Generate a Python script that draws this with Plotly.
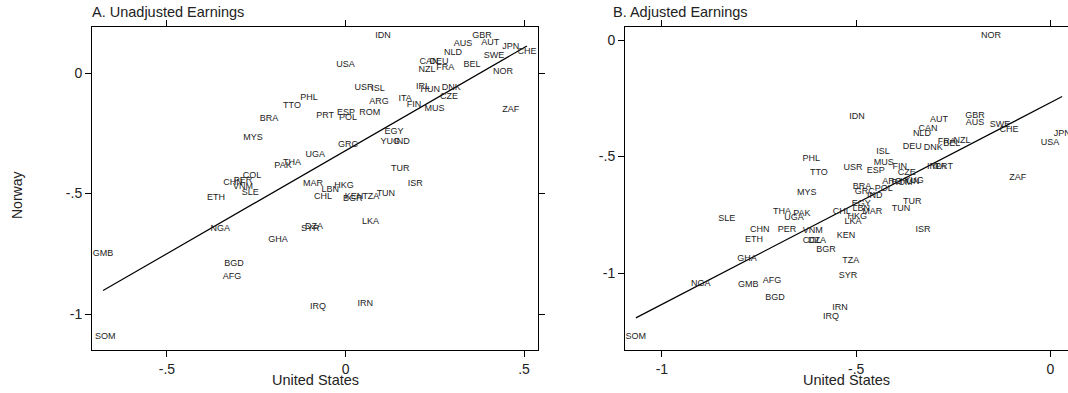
import numpy as np
import plotly.graph_objects as go

# Country codes (same order for both panels)
codes = ["NOR", "IDN", "AUT", "GBR", "AUS", "SWE", "CHE", "JPN", "USA", "CAN",
         "NLD", "NZL", "FRA", "BEL", "DEU", "DNK", "ISL", "PHL", "TTO", "USR",
         "ESP", "MUS", "FIN", "CZE", "IRL", "ITA", "PRT", "BRA", "GRC", "IND",
         "POL", "ARG", "ROM", "HUN", "YUG", "MYS", "TUR", "TUN", "EGY", "CHL",
         "LBN", "MAR", "HKG", "LKA", "THA", "PAK", "UGA", "SLE", "CHN", "PER",
         "VNM", "ETH", "COL", "DZA", "BGR", "KEN", "GHA", "TZA", "SYR", "NGA",
         "GMB", "AFG", "BGD", "IRN", "IRQ", "SOM", "ZAF", "ISR"]

# Panel A: unadjusted earnings
us_unadj = [0.441, 0.105, 0.405, 0.382, 0.329, 0.416, 0.508, 0.463, 0.000, 0.234,
            0.301, 0.228, 0.279, 0.354, 0.262, 0.296, 0.091, -0.102, -0.150, 0.052,
            0.001, 0.249, 0.192, 0.290, 0.217, 0.167, -0.057, -0.214, 0.007, 0.158,
            0.007, 0.094, 0.068, 0.237, 0.125, -0.259, 0.153, 0.113, 0.136, -0.063,
            -0.043, -0.091, -0.004, 0.070, -0.150, -0.175, -0.085, -0.267, -0.315, -0.287,
            -0.287, -0.363, -0.262, -0.088, 0.020, 0.024, -0.189, 0.071, -0.099, -0.351,
            -0.679, -0.318, -0.312, 0.055, -0.077, -0.673, 0.463, 0.195]
nor_unadj = [0.004, 0.154, 0.124, 0.154, 0.120, 0.071, 0.087, 0.108, 0.033, 0.046,
             0.083, 0.012, 0.021, 0.033, 0.046, -0.062, -0.066, -0.104, -0.137, -0.062,
             -0.166, -0.149, -0.133, -0.100, -0.058, -0.108, -0.178, -0.191, -0.299, -0.286,
             -0.187, -0.120, -0.166, -0.071, -0.286, -0.270, -0.398, -0.502, -0.245, -0.515,
             -0.485, -0.461, -0.469, -0.618, -0.373, -0.386, -0.340, -0.498, -0.456, -0.448,
             -0.473, -0.519, -0.427, -0.639, -0.520, -0.515, -0.693, -0.515, -0.647, -0.647,
             -0.751, -0.846, -0.793, -0.959, -0.971, -1.095, -0.154, -0.461]

# Panel B: adjusted earnings
us_adj = [-0.153, -0.498, -0.287, -0.194, -0.194, -0.130, -0.107, 0.030, -0.001, -0.315,
          -0.331, -0.228, -0.267, -0.254, -0.356, -0.302, -0.431, -0.616, -0.596, -0.508,
          -0.450, -0.429, -0.388, -0.370, -0.300, -0.287, -0.274, -0.485, -0.478, -0.452,
          -0.429, -0.408, -0.382, -0.362, -0.351, -0.627, -0.356, -0.385, -0.487, -0.537,
          -0.487, -0.459, -0.497, -0.508, -0.691, -0.640, -0.660, -0.833, -0.748, -0.678,
          -0.612, -0.763, -0.614, -0.601, -0.578, -0.526, -0.781, -0.514, -0.521, -0.900,
          -0.778, -0.717, -0.709, -0.542, -0.565, -1.067, -0.084, -0.328]
nor_adj = [0.017, -0.330, -0.343, -0.326, -0.356, -0.365, -0.386, -0.403, -0.442, -0.382,
           -0.403, -0.433, -0.438, -0.446, -0.459, -0.464, -0.481, -0.511, -0.571, -0.549,
           -0.562, -0.528, -0.545, -0.571, -0.545, -0.545, -0.545, -0.631, -0.652, -0.670,
           -0.639, -0.609, -0.614, -0.609, -0.605, -0.657, -0.695, -0.725, -0.704, -0.738,
           -0.725, -0.738, -0.760, -0.781, -0.738, -0.747, -0.764, -0.768, -0.815, -0.815,
           -0.820, -0.858, -0.863, -0.863, -0.901, -0.841, -0.940, -0.948, -1.013, -1.047,
           -1.052, -1.034, -1.107, -1.150, -1.189, -1.275, -0.592, -0.815]

W, H = 1068, 393
TXT = "#222222"
FONT = "Liberation Sans, Arial, Helvetica, sans-serif"


def ols_line(x, y):
    x = np.asarray(x)
    y = np.asarray(y)
    slope, intercept = np.polyfit(x, y, 1)
    xs = np.array([x.min(), x.max()])
    return xs, intercept + slope * xs


fig = go.Figure()

for xv, yv, xa, ya in [(us_unadj, nor_unadj, "x", "y"), (us_adj, nor_adj, "x2", "y2")]:
    fx, fy = ols_line(xv, yv)
    fig.add_trace(go.Scatter(x=fx, y=fy, mode="lines", xaxis=xa, yaxis=ya,
                             line=dict(color="black", width=1.2),
                             hoverinfo="skip", showlegend=False))
    fig.add_trace(go.Scatter(x=xv, y=yv, text=codes, mode="text", xaxis=xa, yaxis=ya,
                             textposition="middle center",
                             textfont=dict(size=9, color=TXT, family=FONT),
                             showlegend=False))

ydom = [1 - 350 / H, 1 - 27 / H]
axis_common = dict(showgrid=False, zeroline=False, showline=True, linecolor="black",
                   linewidth=1, ticks="outside", ticklen=6, tickwidth=1, tickcolor="black",
                   tickfont=dict(size=14, color=TXT, family=FONT))

fig.update_layout(
    width=W, height=H,
    margin=dict(l=0, r=0, t=0, b=0),
    paper_bgcolor="white", plot_bgcolor="white",
    xaxis=dict(domain=[92 / W, 538 / W], range=[-0.710, 0.539], mirror="ticks",
               tickvals=[-0.5, 0, 0.5], ticktext=["-.5", "0", ".5"], anchor="y",
               **axis_common),
    yaxis=dict(domain=ydom, range=[-1.149, 0.191], mirror="ticks",
               tickvals=[-1, -0.5, 0], ticktext=["-1", "-.5", "0"], anchor="x",
               **axis_common),
    xaxis2=dict(domain=[625 / W, 1.0], range=[-1.095, 0.045], mirror="ticks",
                tickvals=[-1, -0.5, 0], ticktext=["-1", "-.5", "0"], anchor="y2",
                **axis_common),
    yaxis2=dict(domain=ydom, range=[-1.330, 0.056], mirror=False,
                tickvals=[-1, -0.5, 0], ticktext=["-1", "-.5", "0"], anchor="x2",
                **axis_common),
    annotations=[
        dict(text="A. Unadjusted Earnings", x=90 / W, y=1 - 12 / H, xref="paper", yref="paper",
             xanchor="left", yanchor="middle", showarrow=False,
             font=dict(size=14.5, color=TXT, family=FONT)),
        dict(text="B. Adjusted Earnings", x=611 / W, y=1 - 12 / H, xref="paper", yref="paper",
             xanchor="left", yanchor="middle", showarrow=False,
             font=dict(size=14.5, color=TXT, family=FONT)),
        dict(text="United States", x=315 / W, y=1 - 380 / H, xref="paper", yref="paper",
             xanchor="center", yanchor="middle", showarrow=False,
             font=dict(size=14.5, color=TXT, family=FONT)),
        dict(text="United States", x=846 / W, y=1 - 380 / H, xref="paper", yref="paper",
             xanchor="center", yanchor="middle", showarrow=False,
             font=dict(size=14.5, color=TXT, family=FONT)),
        dict(text="Norway", x=17 / W, y=1 - 196 / H, xref="paper", yref="paper",
             xanchor="center", yanchor="middle", showarrow=False, textangle=-90,
             font=dict(size=14, color=TXT, family=FONT)),
    ],
)

fig.write_html("out.html")
